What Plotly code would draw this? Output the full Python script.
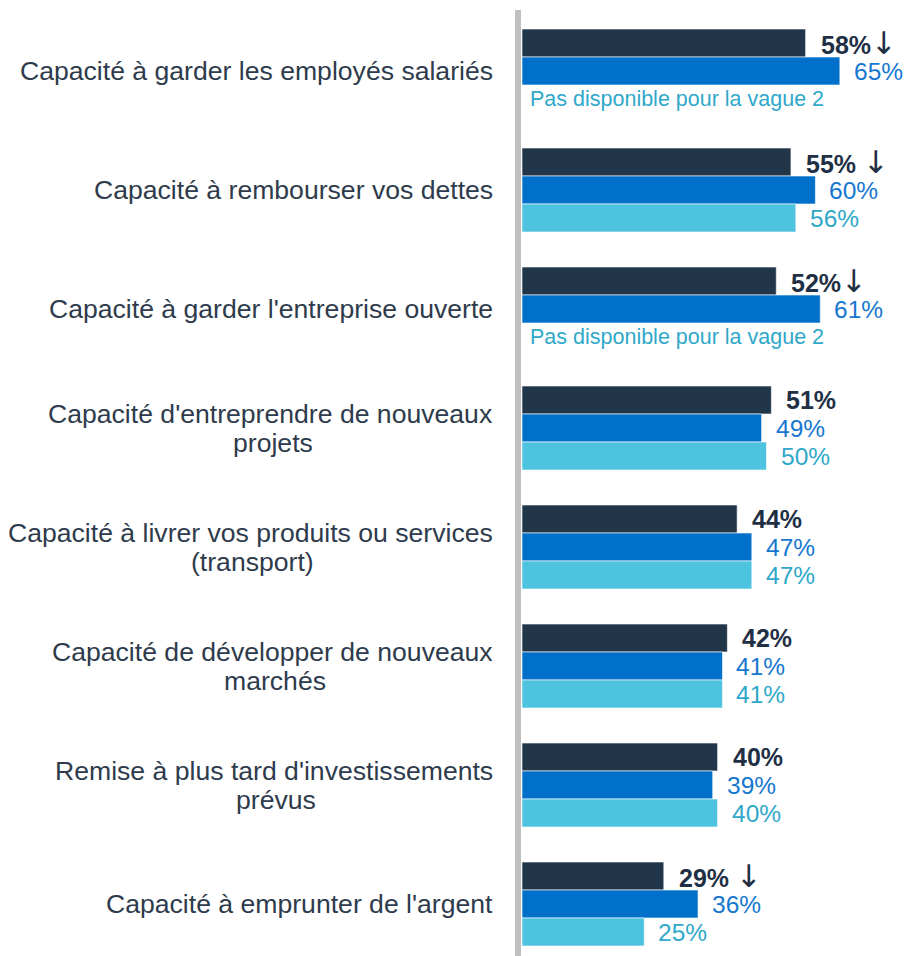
import plotly.graph_objects as go

categories = [
    "Capacité à garder les employés salariés",
    "Capacité à rembourser vos dettes",
    "Capacité à garder l'entreprise ouverte",
    "Capacité d'entreprendre de nouveaux<br>projets",
    "Capacité à livrer vos produits ou services<br>(transport)",
    "Capacité de développer de nouveaux<br>marchés",
    "Remise à plus tard d'investissements<br>prévus",
    "Capacité à emprunter de l'argent",
]
wave_dark = [58, 55, 52, 51, 44, 42, 40, 29]
wave_blue = [65, 60, 61, 49, 47, 41, 39, 36]
wave_light = [None, 56, None, 50, 47, 41, 40, 25]
dark_labels = ["58%", "55%", "52%", "51%", "44%", "42%", "40%", "29%"]
dark_arrows = ["↓", " ↓", "↓", "", "", "", "", " ↓"]
na_text = "Pas disponible pour la vague 2"

C_DARK = "#22364A"
C_BLUE = "#0070CA"
C_LIGHT = "#4EC3DF"
T_DARK = "#1F3045"
T_BLUE = "#1677CF"
T_LIGHT = "#2FA8C9"
T_CAT = "#2E3B4C"
FONT = "Liberation Sans, Arial, sans-serif"

W, H = 905, 956
X0_PX = 522.0
PX_PER_PCT = 4.89
BAR_PX = 28.0
PITCH = 4.25  # group pitch in bar units
TOP_CENTER_PX = 43.0
LINE_GAP = 29.0
CAT_SIZE = 26.6
LABEL_GAP = 27

# Arial / Liberation Sans advance widths (per 1000 em) for centring 2nd lines
_AW = {" ": 278, "'": 191, "(": 333, ")": 333, "C": 722, "R": 722,
       "a": 556, "b": 556, "c": 500, "d": 556, "e": 556, "g": 556, "h": 556,
       "i": 222, "j": 222, "l": 222, "m": 833, "n": 556, "o": 556, "p": 556,
       "r": 333, "s": 500, "t": 278, "u": 556, "v": 500, "x": 500, "y": 500,
       "é": 556, "è": 556, "à": 556}
def text_w(s, size):
    return sum(_AW.get(ch, 556) for ch in s) * size / 1000.0

n = len(categories)
def ypos(i, j):
    return i * PITCH + j

fig = go.Figure()
series = [(wave_dark, C_DARK), (wave_blue, C_BLUE), (wave_light, C_LIGHT)]
for j, (vals, col) in enumerate(series):
    ys = [ypos(i, j) for i in range(n)]
    fig.add_trace(go.Bar(
        x=vals, y=ys, orientation="h", width=1.0,
        marker=dict(color=col, line=dict(color="white", width=0.6)),
        hoverinfo="skip", showlegend=False,
    ))

ann = []
for i in range(n):
    lines = categories[i].split("<br>")
    if len(lines) == 1:
        ann.append(dict(
            x=0, y=ypos(i, 1), xref="x", yref="y", text=lines[0], showarrow=False,
            xanchor="right", yanchor="middle", xshift=-LABEL_GAP,
            font=dict(family=FONT, size=CAT_SIZE, color=T_CAT),
        ))
    else:
        l1, l2 = lines
        w1 = text_w(l1, CAT_SIZE)
        ann.append(dict(
            x=0, y=ypos(i, 1), xref="x", yref="y", text=l1, showarrow=False,
            xanchor="right", yanchor="middle", xshift=-LABEL_GAP, yshift=LINE_GAP / 2,
            font=dict(family=FONT, size=CAT_SIZE, color=T_CAT),
        ))
        ann.append(dict(
            x=0, y=ypos(i, 1), xref="x", yref="y", text=l2, showarrow=False,
            xanchor="center", yanchor="middle", xshift=-LABEL_GAP - w1 / 2,
            yshift=-LINE_GAP / 2,
            font=dict(family=FONT, size=CAT_SIZE, color=T_CAT),
        ))
    arrow = dark_arrows[i]
    arrow_html = ""
    if arrow:
        arrow_html = arrow.replace(
            "↓", "<span style='font-family:DejaVu Sans;font-size:31px;font-weight:normal'>↓</span>")
    ann.append(dict(
        x=wave_dark[i], y=ypos(i, 0), xref="x", yref="y",
        text="<b>" + dark_labels[i] + "</b>" + arrow_html, showarrow=False,
        xanchor="left", yanchor="middle", xshift=13,
        font=dict(family=FONT, size=25, color=T_DARK),
    ))
    ann.append(dict(
        x=wave_blue[i], y=ypos(i, 1), xref="x", yref="y",
        text=f"{wave_blue[i]}%", showarrow=False,
        xanchor="left", yanchor="middle", xshift=12,
        font=dict(family=FONT, size=24.5, color=T_BLUE),
    ))
    if wave_light[i] is None:
        ann.append(dict(
            x=0, y=ypos(i, 2), xref="x", yref="y", text=na_text, showarrow=False,
            xanchor="left", yanchor="middle", xshift=6,
            font=dict(family=FONT, size=21.5, color=T_LIGHT),
        ))
    else:
        ann.append(dict(
            x=wave_light[i], y=ypos(i, 2), xref="x", yref="y",
            text=f"{wave_light[i]}%", showarrow=False,
            xanchor="left", yanchor="middle", xshift=12,
            font=dict(family=FONT, size=24.5, color=T_LIGHT),
        ))

x_lo = -X0_PX / PX_PER_PCT
x_hi = (W - X0_PX) / PX_PER_PCT
y_top = -TOP_CENTER_PX / BAR_PX
y_bot = (H - TOP_CENTER_PX) / BAR_PX

fig.update_layout(
    width=W, height=H,
    margin=dict(l=0, r=0, t=0, b=0),
    paper_bgcolor="white", plot_bgcolor="white",
    barmode="overlay",
    hovermode=False,
    xaxis=dict(range=[x_lo, x_hi], visible=False, fixedrange=True),
    yaxis=dict(range=[y_bot, y_top], visible=False, fixedrange=True),
    annotations=ann,
    shapes=[dict(type="line", xref="paper", yref="paper",
                 x0=518 / W, x1=518 / W, y0=0, y1=1 - 10 / H,
                 line=dict(color="#BFBFBF", width=6))],
)

fig.write_html(
    "out.html",
    config={"displayModeBar": False, "staticPlot": True},
    post_script="document.body.style.margin='0px';document.body.style.overflow='hidden';",
)
